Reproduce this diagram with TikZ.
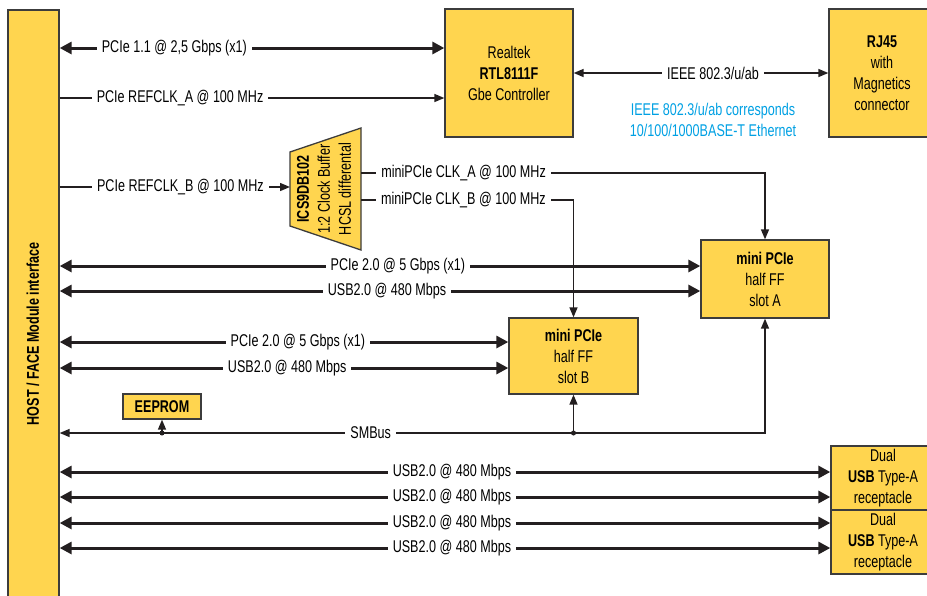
\documentclass[tikz,border=0pt]{standalone}
\usepackage{fontspec}
\setmainfont[FakeStretch=0.74]{Liberation Sans}
\usetikzlibrary{arrows.meta,calc}
\definecolor{dinyellow}{RGB}{255,213,79}
\definecolor{edge}{RGB}{60,60,60}
\definecolor{wire}{RGB}{35,31,32}
\definecolor{ieeeblue}{RGB}{0,160,227}
\newcommand\dinfont{\fontsize{17}{21}\selectfont}

\begin{document}
\begin{tikzpicture}[x=1pt, y=-1pt, font=\dinfont,
  blk/.style={draw=edge, line width=1.3pt, fill=dinyellow, align=center, inner sep=0pt},
  lbl/.style={fill=white, inner xsep=5pt, inner ysep=1pt},
  sig/.style={draw=wire, line width=1.4pt, >={Triangle[length=10pt,width=8pt]}},
  bus/.style={draw=wire, line width=3pt, {Triangle[length=12pt,width=12pt]}-{Triangle[length=12pt,width=12pt]}},
  tap/.style={circle, fill=wire, inner sep=0pt, minimum size=5pt},
]
\useasboundingbox (0,0) rectangle (927,595);
\clip (0,0) rectangle (927,595);
\node[blk, minimum width=51pt, minimum height=600pt] (host) at (33.5,310) {};
\node[rotate=90, font=\dinfont\bfseries] (hostlbl) at (33,334) {HOST / FACE Module interface};
\node[blk, minimum width=128pt, minimum height=128pt] (rtl) at (509,73) {Realtek\\\textbf{RTL8111F}\\Gbe Controller};
\node[blk, minimum width=106pt, minimum height=128pt] (rj) at (882,73) {\textbf{RJ45}\\with\\Magnetics\\connector};
\node[text=ieeeblue, align=center] (note) at (713,120) {IEEE 802.3/u/ab corresponds\\10/100/1000BASE-T Ethernet};
\filldraw[draw=edge, line width=1.3pt, fill=dinyellow] (290,152) -- (361,128) -- (361,250) -- (290,226) -- cycle;
\node[rotate=90, align=center] (buf) at (324,189) {\textbf{ICS9DB102}\\1:2 Clock Buffer\\HCSL differental};
\coordinate (bufin) at (290,187);
\coordinate (bufA) at (361,173);
\coordinate (bufB) at (361,200);
\node[blk, minimum width=128pt, minimum height=78pt] (slotA) at (765,279) {\textbf{mini PCIe}\\half FF\\slot A};
\node[blk, minimum width=129pt, minimum height=76pt] (slotB) at (573.5,356) {\textbf{mini PCIe}\\half FF\\slot B};
\node[blk, minimum width=78pt, minimum height=25pt, font=\dinfont\bfseries] (eeprom) at (162,406.5) {EEPROM};
\node[blk, minimum width=104pt, minimum height=64pt] (usbA) at (883,478) {Dual\\\textbf{USB} Type-A\\receptacle};
\node[blk, minimum width=104pt, minimum height=64pt] (usbB) at (883,542) {Dual\\\textbf{USB} Type-A\\receptacle};

\draw[bus] (host.east |- 0,48) -- node[lbl, pos=0.298] {PCIe 1.1 @ 2,5 Gbps (x1)} (rtl.west |- 0,48);
\draw[sig, ->] (host.east |- 0,98) -- node[lbl, pos=0.313] {PCIe REFCLK\_A @ 100 MHz} (rtl.west |- 0,98);
\draw[sig, <->] (rtl.east) -- node[lbl, pos=0.547] {IEEE 802.3/u/ab} (rj.west);
\draw[sig, ->] (host.east |- bufin) -- node[lbl, pos=0.524] {PCIe REFCLK\_B @ 100 MHz} (bufin);
\draw[sig, ->] (bufA) -- node[lbl, pos=0.254] {miniPCIe CLK\_A @ 100 MHz} (slotA.north |- bufA) -- (slotA.north);
\draw[sig, ->] (bufB) -- node[lbl, pos=0.482] {miniPCIe CLK\_B @ 100 MHz} (slotB.north |- bufB) -- (slotB.north);
\draw[bus] (host.east |- 0,266) -- node[lbl, pos=0.528] {PCIe 2.0 @ 5 Gbps (x1)} (slotA.west |- 0,266);
\draw[bus] (host.east |- 0,291) -- node[lbl, pos=0.511] {USB2.0 @ 480 Mbps} (slotA.west |- 0,291);
\draw[bus] (host.east |- 0,342) -- node[lbl, pos=0.531] {PCIe 2.0 @ 5 Gbps (x1)} (slotB.west |- 0,342);
\draw[bus] (host.east |- 0,368) -- node[lbl, pos=0.507] {USB2.0 @ 480 Mbps} (slotB.west |- 0,368);
\draw[sig, <->] (slotA.south) -- (slotA.south |- 0,433) -- node[lbl, pos=0.559] {SMBus} (host.east |- 0,433);
\node[tap] (jB) at (slotB.south |- 0,433) {};
\node[tap] (jE) at (eeprom.south |- 0,433) {};
\draw[sig, ->] (jB.center) -- (slotB.south);
\draw[sig, ->] (jE.center) -- (eeprom.south);
\draw[bus] (host.east |- 0,472) -- node[lbl, pos=0.509] {USB2.0 @ 480 Mbps} (usbA.west |- 0,472);
\draw[bus] (host.east |- 0,497) -- node[lbl, pos=0.509] {USB2.0 @ 480 Mbps} (usbA.west |- 0,497);
\draw[bus] (host.east |- 0,523) -- node[lbl, pos=0.509] {USB2.0 @ 480 Mbps} (usbB.west |- 0,523);
\draw[bus] (host.east |- 0,548) -- node[lbl, pos=0.509] {USB2.0 @ 480 Mbps} (usbB.west |- 0,548);
\end{tikzpicture}
\end{document}
